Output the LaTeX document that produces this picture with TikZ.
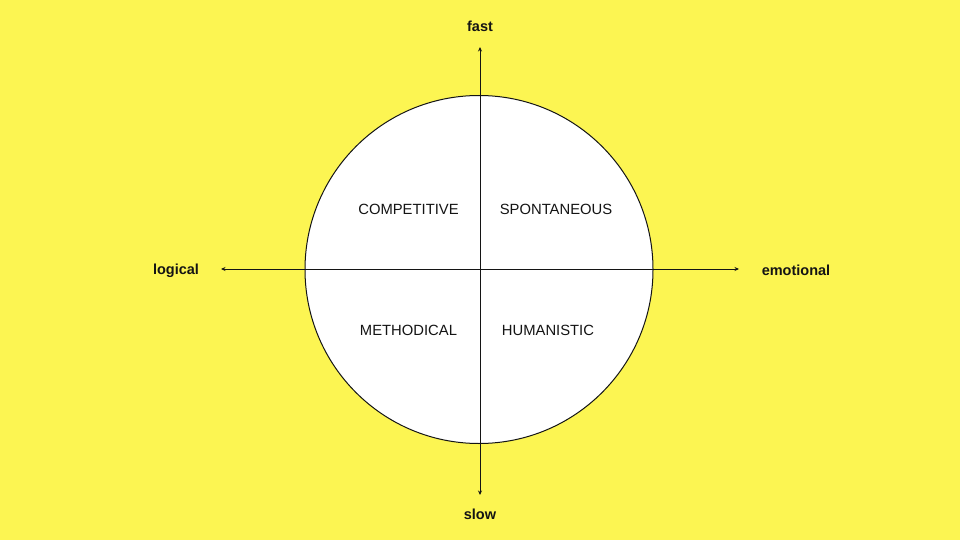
\documentclass[tikz,border=0pt]{standalone}
\usepackage{fontspec}
\setmainfont{Liberation Sans}
\usetikzlibrary{arrows.meta}
\definecolor{bgyellow}{RGB}{252,245,82}
\definecolor{ink}{RGB}{20,20,20}
\tikzset{
  axis/.style={draw=ink, line width=1pt, {Stealth[length=4.5pt,width=4pt]}-{Stealth[length=4.5pt,width=4pt]}},
  axislabel/.style={font=\fontsize{14.5}{16}\selectfont\bfseries, text=ink, inner sep=0pt},
  quadlabel/.style={font=\fontsize{14.8}{16}\selectfont, text=ink, inner sep=0pt},
  disc/.style={circle, draw=ink, line width=1pt, fill=white, minimum size=348pt, inner sep=0pt}
}
\begin{document}
\begin{tikzpicture}[x=1pt,y=-1pt]
\fill[bgyellow] (0,0) rectangle (960,540);
\useasboundingbox (0,0) rectangle (960,540);
\node[disc] (c) at (479,269.5) {};
\coordinate (top) at (480,47);
\coordinate (bot) at (480,495);
\coordinate (lft) at (221,269);
\coordinate (rgt) at (739,269);
\draw[axis] (top) -- (bot);
\draw[axis] (lft) -- (rgt);
\node[axislabel] (fast) at (480,26.5) {fast};
\node[axislabel] (slow) at (480,514.5) {slow};
\node[axislabel] (logical) at (176,271) {logical};
\node[axislabel] (emotional) at (796,270.5) {emotional};
\node[quadlabel] (q1) at (408.5,209.5) {COMPETITIVE};
\node[quadlabel] (q2) at (556,209.5) {SPONTANEOUS};
\node[quadlabel] (q3) at (408.5,330.5) {METHODICAL};
\node[quadlabel] (q4) at (548,330.5) {HUMANISTIC};
\end{tikzpicture}
\end{document}
